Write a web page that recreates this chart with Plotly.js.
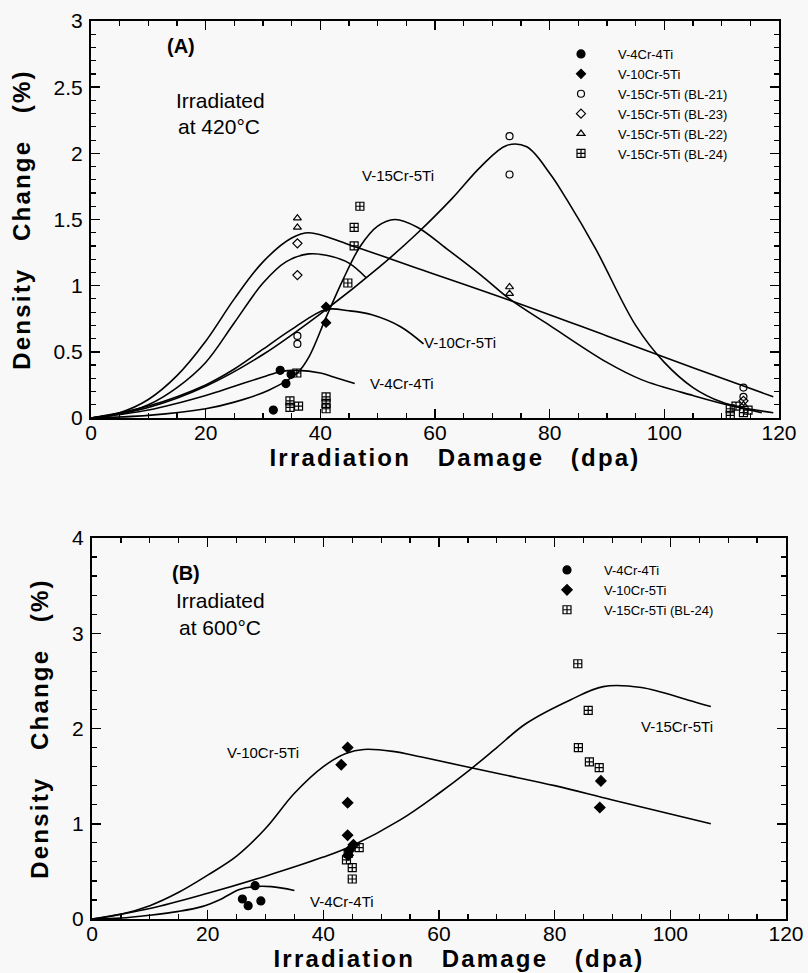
<!DOCTYPE html>
<html>
<head>
<meta charset="utf-8">
<script src="https://cdn.plot.ly/plotly-3.0.1.min.js"></script>
<style>
html,body{margin:0;padding:0;background:#f8f8f8;}
#chart{width:808px;height:973px;}
.xtitle,.x2title,.ytitle,.y2title{letter-spacing:2.2px;}
.xtitle,.x2title{transform:translate(20px,0);}
</style>
</head>
<body>
<div id="chart"></div>
<script>
// ---------------- Panel A (420°C) measured points ----------------
const aV4X = [31.8, 33.0, 34.0, 34.9];
const aV4Y = [0.06, 0.36, 0.26, 0.33];
const aV10X = [41.0, 41.0];
const aV10Y = [0.84, 0.72];
const aBL21X = [36.0, 36.0, 73.0, 73.0, 113.8, 113.8];
const aBL21Y = [0.62, 0.56, 2.13, 1.84, 0.23, 0.16];
const aBL23X = [36.0, 36.0, 113.8];
const aBL23Y = [1.32, 1.08, 0.13];
const aBL22X = [36.0, 36.0, 73.0, 73.0, 113.8];
const aBL22Y = [1.51, 1.44, 0.99, 0.94, 0.10];
const aBL24X = [46.9, 45.9, 45.9, 44.8, 35.9, 34.7, 34.7, 36.2, 41.0, 41.0, 41.0, 111.5, 112.5, 111.5, 113.8, 114.6];
const aBL24Y = [1.60, 1.44, 1.30, 1.02, 0.34, 0.13, 0.08, 0.09, 0.16, 0.11, 0.07, 0.07, 0.09, 0.02, 0.04, 0.06];

// ---------------- Panel A fitted curves ----------------
const aFitV4X = [0, 10, 20, 25, 30, 33, 36, 40, 43, 46];
const aFitV4Y = [0, 0.06, 0.17, 0.24, 0.31, 0.35, 0.36, 0.34, 0.30, 0.26];
const aFitV10X = [0, 10, 20, 25, 30, 35, 41, 45, 49, 54, 58];
const aFitV10Y = [0, 0.09, 0.25, 0.37, 0.52, 0.67, 0.82, 0.81, 0.78, 0.69, 0.56];
const aFitBL21X = [0, 10, 20, 30, 41, 50, 57, 63, 68, 72.5, 76, 80, 83, 88, 95, 100, 105, 110, 117];
const aFitBL21Y = [0, 0.08, 0.24, 0.48, 0.82, 1.13, 1.40, 1.66, 1.90, 2.06, 2.05, 1.85, 1.65, 1.28, 0.70, 0.42, 0.23, 0.12, 0.04];
const aFitBL23X = [0, 5, 10, 15, 20, 25, 30, 34, 38, 42, 45, 48];
const aFitBL23Y = [0, 0.03, 0.10, 0.23, 0.42, 0.72, 1.02, 1.18, 1.24, 1.22, 1.17, 1.06];
const aFitBL22X = [0, 5, 10, 15, 20, 25, 30, 35, 38, 45, 57, 73, 90, 105, 119];
const aFitBL22Y = [0, 0.04, 0.14, 0.32, 0.58, 0.90, 1.18, 1.36, 1.40, 1.31, 1.13, 0.89, 0.62, 0.38, 0.16];
const aFitBL24X = [0, 10, 20, 25, 31, 36, 38, 41, 44, 47, 50, 53, 57, 62, 68, 73, 80, 90, 96, 105, 112, 119];
const aFitBL24Y = [0, 0.02, 0.07, 0.12, 0.21, 0.34, 0.46, 0.76, 1.05, 1.30, 1.45, 1.50, 1.44, 1.28, 1.08, 0.90, 0.70, 0.42, 0.29, 0.17, 0.09, 0.04];

// ---------------- Panel B (600°C) measured points ----------------
const bV4X = [28.2, 26.0, 27.0, 29.2];
const bV4Y = [0.35, 0.21, 0.14, 0.19];
const bV10X = [44.2, 43.1, 44.2, 44.2, 45.2, 44.5, 44.3, 88.0, 87.8];
const bV10Y = [1.80, 1.62, 1.22, 0.88, 0.78, 0.72, 0.67, 1.45, 1.17];
const bBL24X = [84.0, 85.8, 84.1, 86.0, 87.7, 44.0, 46.2, 45.0, 45.0, 44.3];
const bBL24Y = [2.68, 2.19, 1.80, 1.65, 1.59, 0.62, 0.75, 0.54, 0.42, 0.69];

// ---------------- Panel B fitted curves ----------------
const bFitV4X = [0, 5, 10, 15, 19, 22, 25.5, 28, 31, 35];
const bFitV4Y = [0, 0.01, 0.04, 0.08, 0.13, 0.20, 0.31, 0.34, 0.34, 0.30];
const bFitV10X = [0, 5, 10, 15, 20, 25, 30, 35, 40, 44, 47, 52, 57, 70, 80, 90, 107];
const bFitV10Y = [0, 0.05, 0.14, 0.28, 0.46, 0.66, 0.95, 1.32, 1.60, 1.74, 1.78, 1.76, 1.70, 1.53, 1.40, 1.25, 1.00];
const bFitV15X = [0, 10, 20, 30, 40, 45, 53.3, 60, 65, 70, 75, 82.7, 88.4, 95, 103, 107];
const bFitV15Y = [0, 0.11, 0.27, 0.45, 0.65, 0.77, 1.04, 1.32, 1.55, 1.80, 2.05, 2.30, 2.44, 2.43, 2.30, 2.23];

// ---------------- Text ----------------
const legendNamesA = ['V-4Cr-4Ti', 'V-10Cr-5Ti', 'V-15Cr-5Ti (BL-21)', 'V-15Cr-5Ti (BL-23)', 'V-15Cr-5Ti (BL-22)', 'V-15Cr-5Ti (BL-24)'];
const legendNamesB = ['V-4Cr-4Ti', 'V-10Cr-5Ti', 'V-15Cr-5Ti (BL-24)'];
const xTitle = 'Irradiation\u00a0\u00a0\u00a0Damage\u00a0\u00a0\u00a0(dpa)';
const yTitle = 'Density\u00a0\u00a0\u00a0Change\u00a0\u00a0\u00a0(%)';

// ---------------- Layout helpers (pixel -> paper) ----------------
const W = 808, H = 973;
const px = v => v / W;
const py = v => 1 - v / H;
const FONT = 'Liberation Sans, Arial, Helvetica, sans-serif';
const K = '#000';

function pts(x, y, name, symbol, size, xa, ya, legend) {
  return {x: x, y: y, name: name, type: 'scatter', mode: 'markers', xaxis: xa, yaxis: ya, legend: legend,
    marker: {symbol: symbol, size: size, color: K, line: {color: K, width: 1.2}}};
}
function fit(x, y, xa, ya) {
  return {x: x, y: y, type: 'scatter', mode: 'lines', xaxis: xa, yaxis: ya, showlegend: false, hoverinfo: 'skip',
    line: {color: K, width: 1.6, shape: 'spline', smoothing: 1}};
}

const traces = [
  fit(aFitV4X, aFitV4Y, 'x', 'y'),
  fit(aFitV10X, aFitV10Y, 'x', 'y'),
  fit(aFitBL21X, aFitBL21Y, 'x', 'y'),
  fit(aFitBL23X, aFitBL23Y, 'x', 'y'),
  fit(aFitBL22X, aFitBL22Y, 'x', 'y'),
  fit(aFitBL24X, aFitBL24Y, 'x', 'y'),
  pts(aV4X, aV4Y, legendNamesA[0], 'circle', 8, 'x', 'y', 'legend'),
  pts(aV10X, aV10Y, legendNamesA[1], 'diamond', 7, 'x', 'y', 'legend'),
  pts(aBL21X, aBL21Y, legendNamesA[2], 'circle-open', 7, 'x', 'y', 'legend'),
  pts(aBL23X, aBL23Y, legendNamesA[3], 'diamond-open', 7, 'x', 'y', 'legend'),
  pts(aBL22X, aBL22Y, legendNamesA[4], 'triangle-up-open', 7, 'x', 'y', 'legend'),
  pts(aBL24X, aBL24Y, legendNamesA[5], 'square-cross-open', 8, 'x', 'y', 'legend'),

  fit(bFitV4X, bFitV4Y, 'x2', 'y2'),
  fit(bFitV10X, bFitV10Y, 'x2', 'y2'),
  fit(bFitV15X, bFitV15Y, 'x2', 'y2'),
  pts(bV4X, bV4Y, legendNamesB[0], 'circle', 8, 'x2', 'y2', 'legend2'),
  pts(bV10X, bV10Y, legendNamesB[1], 'diamond', 8, 'x2', 'y2', 'legend2'),
  pts(bBL24X, bBL24Y, legendNamesB[2], 'square-cross-open', 8, 'x2', 'y2', 'legend2')
];

function axis(extra) {
  return Object.assign({
    showgrid: false, zeroline: false, showline: true, linecolor: K, linewidth: 2,
    mirror: 'ticks', ticks: 'inside', ticklen: 9, tickwidth: 1.5, tickcolor: K,
    tickfont: {family: FONT, size: 21, color: K}, automargin: false, fixedrange: true
  }, extra);
}
const minorStyle = {ticks: 'inside', ticklen: 5, tickwidth: 1.2, tickcolor: K, showgrid: false};
const titleFont = {family: FONT, size: 24, color: K, weight: 'bold'};

const layout = {
  width: W, height: H,
  margin: {l: 0, r: 0, t: 0, b: 0},
  paper_bgcolor: '#f8f8f8', plot_bgcolor: '#f8f8f8',
  font: {family: FONT, color: K},
  showlegend: true,
  xaxis: axis({domain: [px(91), px(779)], anchor: 'y', range: [0, 120], dtick: 20, tick0: 0, ticklabelstandoff: -5,
    minor: Object.assign({dtick: 5}, minorStyle),
    title: {text: xTitle, standoff: 2, font: titleFont}}),
  yaxis: axis({domain: [py(418), py(21)], anchor: 'x', range: [0, 3], dtick: 0.5, tick0: 0, ticklabelstandoff: 2,
    minor: Object.assign({dtick: 0.1}, minorStyle),
    title: {text: yTitle, standoff: 16, font: titleFont}}),
  xaxis2: axis({domain: [px(92), px(786)], anchor: 'y2', range: [0, 120], dtick: 20, tick0: 0, ticklabelstandoff: -5,
    minor: Object.assign({dtick: 5}, minorStyle),
    title: {text: xTitle, standoff: 3, font: titleFont}}),
  yaxis2: axis({domain: [py(919), py(538)], anchor: 'x2', range: [0, 4], dtick: 1, tick0: 0, ticklabelstandoff: 2,
    minor: Object.assign({dtick: 0.2}, minorStyle),
    title: {text: yTitle, standoff: 17, font: titleFont}}),
  legend: {x: px(544), y: py(39), xanchor: 'left', yanchor: 'top', bgcolor: 'rgba(0,0,0,0)',
    font: {family: FONT, size: 13, color: K}, itemwidth: 64, tracegroupgap: 0, traceorder: 'normal'},
  legend2: {x: px(530), y: py(555), xanchor: 'left', yanchor: 'top', bgcolor: 'rgba(0,0,0,0)',
    font: {family: FONT, size: 13, color: K}, itemwidth: 64, tracegroupgap: 0, traceorder: 'normal'},
  annotations: [
    {xref: 'paper', yref: 'paper', x: px(165), y: py(33), text: '<b>(A)</b>', showarrow: false, font: {family: FONT, size: 20}},
    {xref: 'paper', yref: 'paper', x: px(174), y: py(87), text: 'Irradiated', showarrow: false, font: {family: FONT, size: 21}},
    {xref: 'paper', yref: 'paper', x: px(176), y: py(113), text: 'at 420\u00b0C', showarrow: false, font: {family: FONT, size: 21}},
    {xref: 'x', yref: 'y', x: 53.6, y: 1.83, text: 'V-15Cr-5Ti', showarrow: false, font: {family: FONT, size: 15}},
    {xref: 'x', yref: 'y', x: 64.4, y: 0.57, text: 'V-10Cr-5Ti', showarrow: false, font: {family: FONT, size: 15}},
    {xref: 'x', yref: 'y', x: 54.2, y: 0.26, text: 'V-4Cr-4Ti', showarrow: false, font: {family: FONT, size: 15}},

    {xref: 'paper', yref: 'paper', x: px(170), y: py(573), text: '<b>(B)</b>', showarrow: false, font: {family: FONT, size: 20}},
    {xref: 'paper', yref: 'paper', x: px(174), y: py(600), text: 'Irradiated', showarrow: false, font: {family: FONT, size: 21}},
    {xref: 'paper', yref: 'paper', x: px(177), y: py(627), text: 'at 600\u00b0C', showarrow: false, font: {family: FONT, size: 21}},
    {xref: 'x2', yref: 'y2', x: 29.6, y: 1.75, text: 'V-10Cr-5Ti', showarrow: false, font: {family: FONT, size: 15}},
    {xref: 'x2', yref: 'y2', x: 101.2, y: 2.02, text: 'V-15Cr-5Ti', showarrow: false, font: {family: FONT, size: 15}},
    {xref: 'x2', yref: 'y2', x: 43.2, y: 0.18, text: 'V-4Cr-4Ti', showarrow: false, font: {family: FONT, size: 15}}
  ]
};

Plotly.newPlot('chart', traces, layout, {staticPlot: true, displayModeBar: false});
</script>
</body>
</html>
